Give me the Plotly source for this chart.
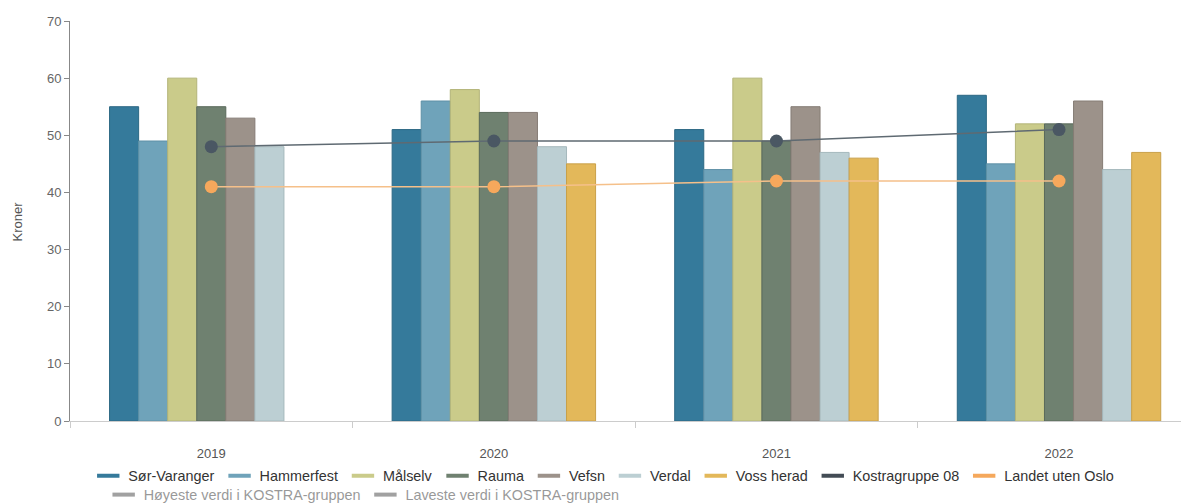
import plotly.graph_objects as go

years = ["2019", "2020", "2021", "2022"]

sor_varanger = [55, 51, 51, 57]
hammerfest = [49, 56, 44, 45]
malselv = [60, 58, 60, 52]
rauma = [55, 54, 49, 52]
vefsn = [53, 54, 55, 56]
verdal = [48, 48, 47, 44]
voss_herad = [None, 45, 46, 47]

kostragruppe_08 = [48, 49, 49, 51]
landet_uten_oslo = [41, 41, 42, 42]

# (name, values, fill, outline)
bars = [
    ("Sør-Varanger", sor_varanger, "#357a9b", "#2c6884"),
    ("Hammerfest", hammerfest, "#6fa3ba", "#5e90a6"),
    ("Målselv", malselv, "#cacb8a", "#b3b478"),
    ("Rauma", rauma, "#6f8170", "#5a6a5b"),
    ("Vefsn", vefsn, "#9c928a", "#857c75"),
    ("Verdal", verdal, "#bccfd3", "#a5b8bc"),
    ("Voss herad", voss_herad, "#e3b85a", "#c9a04a"),
]

fig = go.Figure()

for name, vals, fill, edge in bars:
    fig.add_trace(
        go.Bar(
            x=years,
            y=vals,
            name=name,
            showlegend=False,
            marker=dict(color=fill, line=dict(color=edge, width=1)),
        )
    )

# --- reference lines --------------------------------------------------------
fig.add_trace(
    go.Scatter(
        x=years,
        y=kostragruppe_08,
        mode="lines+markers",
        name="Kostragruppe 08",
        showlegend=False,
        line=dict(color="#5f6a72", width=1.5),
        marker=dict(color="#4a5763", size=13),
    )
)
fig.add_trace(
    go.Scatter(
        x=years,
        y=landet_uten_oslo,
        mode="lines+markers",
        name="Landet uten Oslo",
        showlegend=False,
        line=dict(color="#f5c08a", width=1.5),
        marker=dict(color="#f6a85c", size=13),
    )
)

# --- legend entries (short line symbols like the original) ------------------
legend_items = [(n, c) for n, _, c, _ in bars] + [
    ("Kostragruppe 08", "#434c55"),
    ("Landet uten Oslo", "#f5a85c"),
]
for name, colour in legend_items:
    fig.add_trace(
        go.Scatter(
            x=[None],
            y=[None],
            mode="markers",
            name=name,
            legend="legend",
            marker=dict(symbol="line-ew", size=16, line=dict(color=colour, width=4)),
        )
    )
for name in ["Høyeste verdi i KOSTRA-gruppen", "Laveste verdi i KOSTRA-gruppen"]:
    fig.add_trace(
        go.Scatter(
            x=[None],
            y=[None],
            mode="markers",
            name=name,
            legend="legend2",
            visible="legendonly",
            marker=dict(symbol="line-ew", size=16, line=dict(color="#444444", width=4)),
        )
    )

font = "Liberation Sans, Arial, sans-serif"

# page body has an 8px margin, so the figure is sized to fill what is left
fig.update_layout(
    width=1181,
    height=495,
    barmode="group",
    bargap=0.28,
    bargroupgap=0,
    plot_bgcolor="white",
    paper_bgcolor="white",
    font=dict(family=font, size=13, color="#555555"),
    margin=dict(l=62, r=0, t=13, b=82, autoexpand=False),
    xaxis=dict(
        type="category",
        range=[-0.5, 3.46],
        automargin=False,
        tickson="boundaries",
        ticks="outside",
        ticklen=6,
        tickcolor="#cccccc",
        ticklabelstandoff=20,
        showline=True,
        linecolor="#cccccc",
        linewidth=1,
        showgrid=False,
        tickfont=dict(size=13, color="#555555"),
    ),
    yaxis=dict(
        range=[0, 70],
        dtick=10,
        automargin=False,
        ticks="outside",
        ticklen=5,
        tickcolor="#888888",
        showline=True,
        linecolor="#888888",
        linewidth=1,
        showgrid=False,
        zeroline=False,
        tickfont=dict(size=13, color="#666666"),
    ),
    annotations=[
        dict(
            text="Kroner",
            textangle=-90,
            xref="paper",
            yref="paper",
            x=-0.047,
            y=0.5,
            xanchor="center",
            yanchor="middle",
            showarrow=False,
            font=dict(size=13, color="#555555"),
        )
    ],
    legend=dict(
        orientation="h",
        x=0.477,
        xanchor="center",
        y=0.087,
        yanchor="top",
        yref="container",
        font=dict(family=font, size=14.4, color="#333333"),
        itemsizing="trace",
        tracegroupgap=0,
        itemclick=False,
        bgcolor="rgba(0,0,0,0)",
    ),
    legend2=dict(
        orientation="h",
        x=0.081,
        xanchor="left",
        xref="container",
        y=0.049,
        yanchor="top",
        yref="container",
        font=dict(family=font, size=14.4, color="#333333"),
        itemsizing="trace",
        itemclick=False,
        bgcolor="rgba(0,0,0,0)",
    ),
)

fig.write_html("out.html")
